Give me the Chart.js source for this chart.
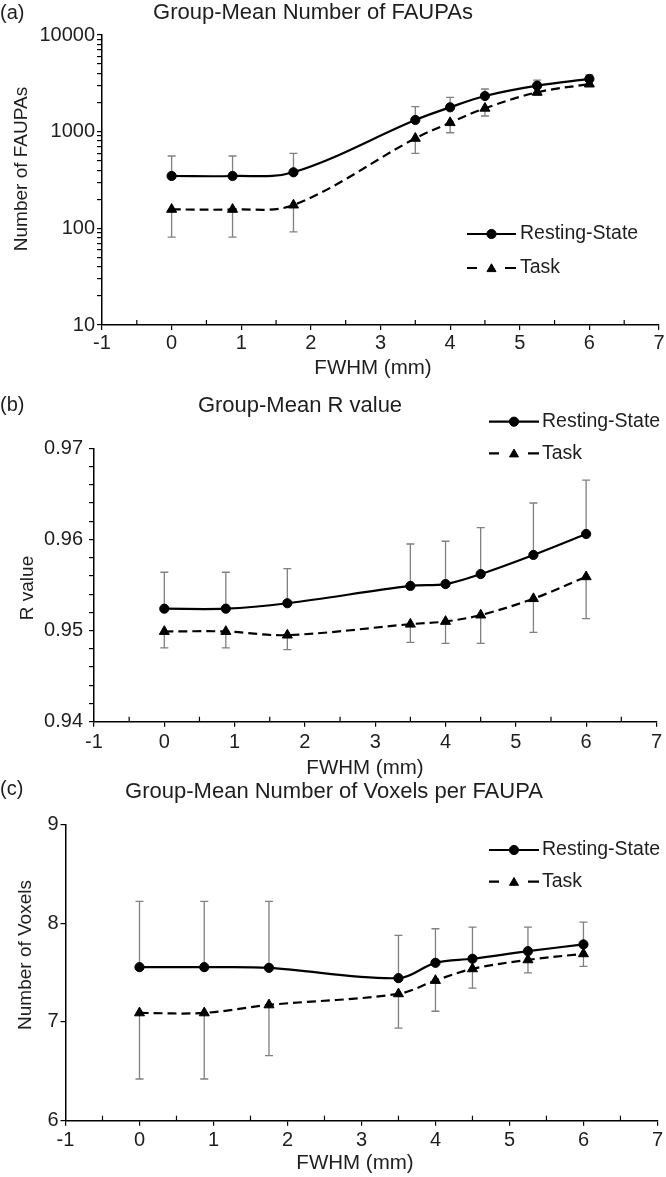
<!DOCTYPE html>
<html><head><meta charset="utf-8">
<script src="https://cdn.jsdelivr.net/npm/chart.js@4.4.1/dist/chart.umd.min.js"></script>
<style>
html,body{margin:0;padding:0;background:#fff;}
#wrap{position:relative;width:666px;height:1177px;overflow:hidden;background:#fff;}
canvas{position:absolute;left:0;}
</style></head><body>
<div id="wrap">
<canvas id="ca" width="666" height="380" style="top:0px"></canvas>
<canvas id="cb" width="666" height="405" style="top:380px"></canvas>
<canvas id="cc" width="666" height="402" style="top:775px"></canvas>
</div>
<script>
// ---------- data ----------
const fwhm = [0, 0.875, 1.75, 3.5, 4, 4.5, 5.25, 6];
const xTickLabels = ['-1','0','1','2','3','4','5','6','7'];
const seriesNames = ['Resting-State','Task'];
const panelLabels = ['(a)','(b)','(c)'];
const panelTitles = ['Group-Mean Number of FAUPAs','Group-Mean R value','Group-Mean Number of Voxels per FAUPA'];
const yTitles = ['Number of FAUPAs','R value','Number of Voxels'];
const xTitle = 'FWHM (mm)';

// (a) number of FAUPAs (log scale)
const faupaRest   = [348, 348, 380, 1321, 1786, 2339, 2994, 3510];
const faupaRestSD = [212, 212, 217, 491, 480, 424, 426, 345];
const faupaTask   = [157, 157, 174, 853, 1239, 1746, 2554, 3111];
const faupaTaskSD = [76, 76, 82, 256, 264, 294, 161, 194];
const faupaTicks  = ['10','100','1000','10000'];

// (b) R value
const rRest   = [0.9524, 0.9524, 0.9530, 0.9549, 0.9551, 0.9562, 0.9583, 0.9606];
const rRestSD = [0.0040, 0.0040, 0.0038, 0.0046, 0.0047, 0.0051, 0.0057, 0.0059];
const rTask   = [0.9499, 0.9499, 0.9495, 0.9507, 0.9510, 0.9517, 0.9535, 0.9559];
const rTaskSD = [0.0018, 0.0018, 0.0016, 0.0020, 0.0024, 0.0031, 0.0037, 0.0046];
const rTicks  = ['0.94','0.95','0.96','0.97'];

// (c) number of voxels per FAUPA
const voxRest   = [7.554, 7.554, 7.547, 7.443, 7.598, 7.639, 7.716, 7.784];
const voxRestSD = [0.666, 0.666, 0.673, 0.432, 0.345, 0.320, 0.243, 0.226];
const voxTask   = [7.091, 7.091, 7.172, 7.284, 7.419, 7.537, 7.628, 7.689];
const voxTaskSD = [0.669, 0.669, 0.513, 0.348, 0.311, 0.196, 0.131, 0.128];
const voxTicks  = ['6','7','8','9'];

// ---------- style ----------
const FONT = "'Liberation Sans', Arial, Helvetica, sans-serif";
const TXT = '#1e1e1e';

const errorBars = {
  id: 'errorBars',
  beforeDatasetsDraw(chart) {
    const {ctx, scales: {x, y}} = chart;
    ctx.save();
    ctx.strokeStyle = '#808080';
    ctx.lineWidth = 1.3;
    chart.data.datasets.forEach(ds => {
      if (!ds.err) return;
      ds.data.forEach((p, i) => {
        const px = x.getPixelForValue(p.x);
        const y0 = y.getPixelForValue(p.y);
        const y1 = y.getPixelForValue(p.y + ds.errDir * ds.err[i]);
        ctx.beginPath();
        ctx.moveTo(px, y0); ctx.lineTo(px, y1);
        ctx.moveTo(px - 4, y1); ctx.lineTo(px + 4, y1);
        ctx.stroke();
      });
    });
    ctx.restore();
  }
};

const minorX = {
  id: 'minorX',
  afterDraw(chart) {
    const {ctx, scales: {x}, chartArea} = chart;
    ctx.save();
    ctx.strokeStyle = '#000';
    ctx.lineWidth = 1.2;
    for (let i = 0; i < xTickLabels.length - 1; i++) {
      const v = (Number(xTickLabels[i]) + Number(xTickLabels[i + 1])) / 2;
      const px = x.getPixelForValue(v);
      ctx.beginPath();
      ctx.moveTo(px, chartArea.bottom);
      ctx.lineTo(px, chartArea.bottom - 5);
      ctx.stroke();
    }
    ctx.restore();
  }
};

function textPlugin(p) {
  return {
    id: 'texts',
    afterDraw(chart) {
      const ctx = chart.ctx;
      const t = p.texts;
      ctx.save();
      ctx.fillStyle = TXT;
      ctx.textBaseline = 'middle';
      ctx.textAlign = 'left';
      ctx.font = `20px ${FONT}`;
      ctx.fillText(panelLabels[p.idx], t.label[0], t.label[1]);
      ctx.textAlign = 'center';
      ctx.font = `22px ${FONT}`;
      ctx.fillText(panelTitles[p.idx], t.title[0], t.title[1]);
      ctx.font = `20.5px ${FONT}`;
      ctx.fillText(xTitle, t.xt[0], t.xt[1]);
      ctx.save();
      ctx.translate(t.yt[0], t.yt[1]);
      ctx.rotate(-Math.PI / 2);
      ctx.font = `19px ${FONT}`;
      ctx.fillText(yTitles[p.idx], 0, 0);
      ctx.restore();

      // legend
      const L = p.legend;
      const mid = (L.x1 + L.x2) / 2;
      ctx.strokeStyle = '#000';
      ctx.fillStyle = '#000';
      ctx.lineWidth = 2.2;
      ctx.setLineDash([]);
      ctx.beginPath(); ctx.moveTo(L.x1, L.yRest); ctx.lineTo(L.x2, L.yRest); ctx.stroke();
      ctx.lineWidth = 1;
      Chart.helpers.drawPoint(ctx, {pointStyle: 'circle', radius: 4.6, borderWidth: 1, rotation: 0}, mid, L.yRest);
      ctx.lineWidth = 2.2;
      ctx.beginPath();
      ctx.moveTo(L.x1, L.yTask); ctx.lineTo(L.x1 + 10, L.yTask);
      ctx.moveTo(L.x2 - 11, L.yTask); ctx.lineTo(L.x2, L.yTask);
      ctx.stroke();
      ctx.lineWidth = 1;
      Chart.helpers.drawPoint(ctx, {pointStyle: 'triangle', radius: 5.2, borderWidth: 1, rotation: 0}, mid, L.yTask + 1);
      ctx.fillStyle = TXT;
      ctx.textAlign = 'left';
      ctx.font = `19.5px ${FONT}`;
      ctx.fillText(seriesNames[0], L.tx, L.yRest);
      ctx.fillText(seriesNames[1], L.tx, L.yTask);
      ctx.restore();
    }
  };
}

function makeChart(canvasId, p) {
  const W = 666, H = p.H;
  const toXY = vals => fwhm.map((x, i) => ({x, y: vals[i]}));
  const datasets = [
    { label: seriesNames[0], data: toXY(p.rest), err: p.restSD, errDir: 1,
      borderColor: '#000', backgroundColor: '#000', borderWidth: 2.2, tension: 0.35,
      pointStyle: 'circle', pointRadius: 4.6, pointBorderWidth: 1,
      pointBackgroundColor: '#000', pointBorderColor: '#000', fill: false },
    { label: seriesNames[1], data: toXY(p.task), err: p.taskSD, errDir: -1,
      borderColor: '#000', backgroundColor: '#000', borderWidth: 2.2, borderDash: [9, 5], tension: 0.35,
      pointStyle: 'triangle', pointRadius: 5.8, pointBorderWidth: 1,
      pointBackgroundColor: '#000', pointBorderColor: '#000', fill: false }
  ];
  const gridOpt = {drawOnChartArea: false, drawTicks: true, tickLength: 5, color: '#000', tickColor: '#000', lineWidth: 1.2};
  const borderOpt = {display: true, color: '#000', width: 1.5};
  return new Chart(document.getElementById(canvasId), {
    type: 'line',
    data: {datasets},
    options: {
      responsive: false, animation: false, devicePixelRatio: 1,
      layout: {padding: {left: 0, top: p.area.t, right: W - p.area.r, bottom: 0}},
      plugins: {legend: {display: false}, tooltip: {enabled: false}, title: {display: false}},
      scales: {
        x: {
          type: 'linear', min: -1, max: 7,
          afterBuildTicks: s => { s.ticks = xTickLabels.map(t => ({value: Number(t)})); },
          afterFit: s => { s.height = H - p.area.b; },
          ticks: {callback: (v, i) => xTickLabels[i], font: {family: FONT, size: 20}, color: TXT,
                  padding: p.xPad, maxRotation: 0, autoSkip: false},
          grid: gridOpt, border: borderOpt
        },
        y: {
          type: p.yType, min: p.yMin, max: p.yMax,
          afterBuildTicks: s => { s.ticks = p.yTickValues.map(v => ({value: v})); },
          afterFit: s => { s.width = p.area.l; },
          ticks: {callback: (v, i) => p.yLabel(v, i), font: {family: FONT, size: 20}, color: TXT,
                  padding: p.yPad, autoSkip: false},
          grid: gridOpt, border: borderOpt
        }
      }
    },
    plugins: [errorBars, minorX, textPlugin(p)]
  });
}

// (a) log ticks: 10..90, 100..900, 1000..9000, 10000
const faupaTickValues = [];
faupaTicks.forEach((t, k) => {
  const d = Number(t);
  if (k < faupaTicks.length - 1) { for (let m = 1; m <= 9; m++) faupaTickValues.push(m * d); }
  else faupaTickValues.push(d);
});
makeChart('ca', {
  idx: 0, H: 380, area: {l: 102, r: 659, t: 35, b: 325},
  yType: 'logarithmic', yMin: Number(faupaTicks[0]), yMax: Number(faupaTicks[faupaTicks.length - 1]),
  yTickValues: faupaTickValues,
  yLabel: v => (faupaTicks.find(t => Number(t) === v) || ''),
  rest: faupaRest, restSD: faupaRestSD, task: faupaTask, taskSD: faupaTaskSD,
  xPad: 1, yPad: 2,
  texts: {label: [0, 13], title: [313, 13], xt: [373, 368], yt: [21.7, 169]},
  legend: {x1: 467, x2: 516, yRest: 234, yTask: 268, tx: 520}
});

// (b) ticks every 0.002
const rTickValues = [];
for (let i = 0; i <= 15; i++) rTickValues.push(Number((Number(rTicks[0]) + i * 0.002).toFixed(3)));
makeChart('cb', {
  idx: 1, H: 405, area: {l: 94, r: 657, t: 68.3, b: 341.7},
  yType: 'linear', yMin: Number(rTicks[0]), yMax: Number(rTicks[rTicks.length - 1]),
  yTickValues: rTickValues,
  yLabel: (v, i) => (i % 5 === 0 ? rTicks[i / 5] : ''),
  rest: rRest, restSD: rRestSD, task: rTask, taskSD: rTaskSD,
  xPad: 4, yPad: 6,
  texts: {label: [0, 25], title: [300, 26], xt: [365, 388.5], yt: [27.7, 208]},
  legend: {x1: 489, x2: 539, yRest: 41.7, yTask: 73.3, tx: 542}
});

// (c)
makeChart('cc', {
  idx: 2, H: 402, area: {l: 65.5, r: 659, t: 49.3, b: 345.7},
  yType: 'linear', yMin: Number(voxTicks[0]), yMax: Number(voxTicks[voxTicks.length - 1]),
  yTickValues: voxTicks.map(Number),
  yLabel: (v, i) => voxTicks[i],
  rest: voxRest, restSD: voxRestSD, task: voxTask, taskSD: voxTaskSD,
  xPad: 3, yPad: 2,
  texts: {label: [0, 14], title: [334, 17], xt: [355, 388.3], yt: [25.5, 180]},
  legend: {x1: 489, x2: 539, yRest: 75, yTask: 106.7, tx: 542}
});
</script>
</body></html>
